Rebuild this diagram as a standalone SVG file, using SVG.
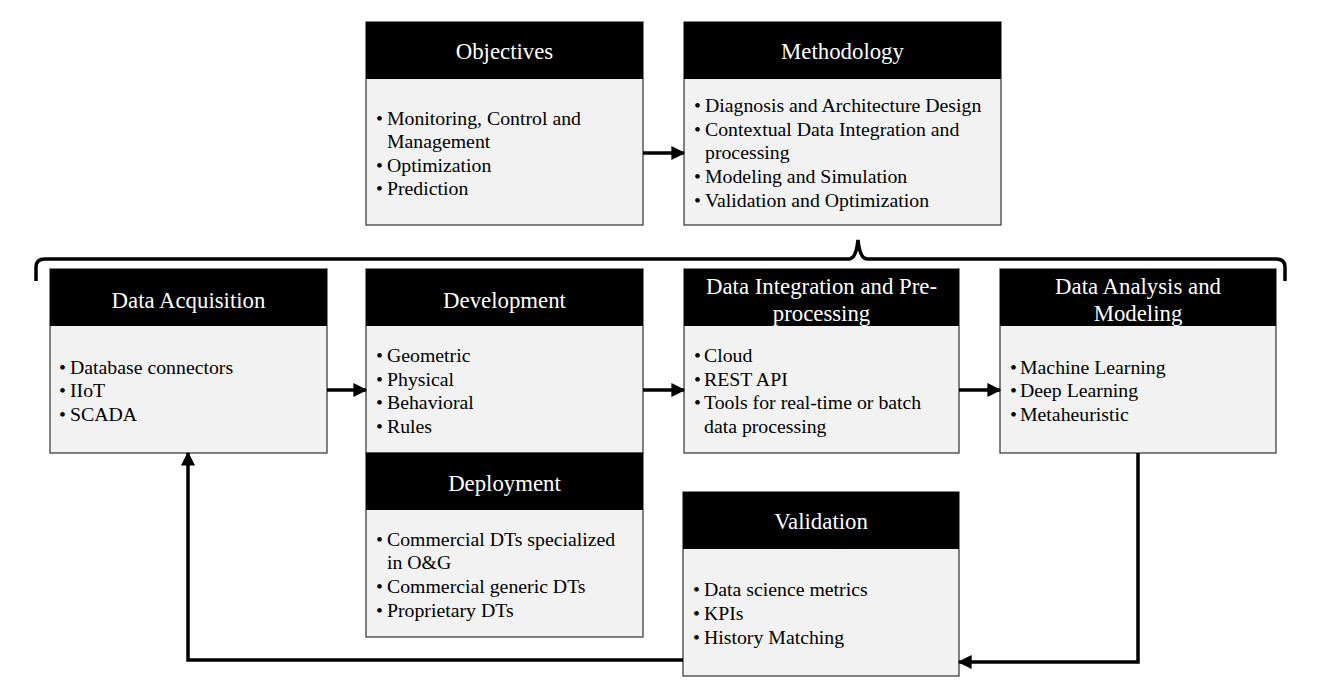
<svg xmlns="http://www.w3.org/2000/svg" width="1317" height="699" viewBox="0 0 1317 699">
<defs>
<style>
.box{fill:#f2f2f2;stroke:#404040;stroke-width:1.3}
.hdr{fill:#000}
.ht{font-family:"Liberation Serif","Times New Roman",serif;font-size:22.8px;fill:#fff;text-anchor:middle}
.bt{font-family:"Liberation Serif","Times New Roman",serif;font-size:19.8px;fill:#000}
.ln{fill:none;stroke:#000;stroke-width:3.5}
</style>
<marker id="ah" viewBox="0 0 10 10" refX="9" refY="5" markerWidth="4" markerHeight="4" orient="auto" markerUnits="strokeWidth">
<path d="M0,0 L10,5 L0,10 z" fill="#000"/>
</marker>
</defs>
<rect width="1317" height="699" fill="#fff"/>

<g id="objectives">
<rect class="box" x="366" y="22" width="277" height="203"/>
<rect class="hdr" x="366" y="22" width="277" height="57"/>
<text class="ht" x="504.5" y="59">Objectives</text>
<text class="bt"><tspan x="376" y="125">•</tspan><tspan x="387" y="125">Monitoring, Control and</tspan><tspan x="387" y="148">Management</tspan><tspan x="376" y="172">•</tspan><tspan x="387" y="172">Optimization</tspan><tspan x="376" y="195">•</tspan><tspan x="387" y="195">Prediction</tspan></text>
</g>

<g id="methodology">
<rect class="box" x="684" y="22" width="317" height="203"/>
<rect class="hdr" x="684" y="22" width="317" height="57"/>
<text class="ht" x="842.5" y="59">Methodology</text>
<text class="bt"><tspan x="694" y="112">•</tspan><tspan x="705" y="112">Diagnosis and Architecture Design</tspan><tspan x="694" y="136">•</tspan><tspan x="705" y="136">Contextual Data Integration and</tspan><tspan x="705" y="159">processing</tspan><tspan x="694" y="183">•</tspan><tspan x="705" y="183">Modeling and Simulation</tspan><tspan x="694" y="207">•</tspan><tspan x="705" y="207">Validation and Optimization</tspan></text>
</g>

<g id="data-acquisition">
<rect class="box" x="50" y="269" width="277" height="184"/>
<rect class="hdr" x="50" y="269" width="277" height="57"/>
<text class="ht" x="188.5" y="308">Data Acquisition</text>
<text class="bt"><tspan x="59" y="374">•</tspan><tspan x="70" y="374">Database connectors</tspan><tspan x="59" y="397">•</tspan><tspan x="70" y="397">IIoT</tspan><tspan x="59" y="421">•</tspan><tspan x="70" y="421">SCADA</tspan></text>
</g>

<g id="development">
<rect class="box" x="366" y="269" width="277" height="184"/>
<rect class="hdr" x="366" y="269" width="277" height="57"/>
<text class="ht" x="504.5" y="308">Development</text>
<text class="bt"><tspan x="376" y="362">•</tspan><tspan x="387" y="362">Geometric</tspan><tspan x="376" y="386">•</tspan><tspan x="387" y="386">Physical</tspan><tspan x="376" y="409">•</tspan><tspan x="387" y="409">Behavioral</tspan><tspan x="376" y="433">•</tspan><tspan x="387" y="433">Rules</tspan></text>
</g>

<g id="deployment">
<rect class="box" x="366" y="453" width="277" height="184"/>
<rect class="hdr" x="366" y="453" width="277" height="57"/>
<text class="ht" x="504.5" y="491">Deployment</text>
<text class="bt"><tspan x="376" y="546">•</tspan><tspan x="387" y="546">Commercial DTs specialized</tspan><tspan x="387" y="569">in O&amp;G</tspan><tspan x="376" y="593">•</tspan><tspan x="387" y="593">Commercial generic DTs</tspan><tspan x="376" y="617">•</tspan><tspan x="387" y="617">Proprietary DTs</tspan></text>
</g>

<g id="data-integration">
<rect class="box" x="684" y="269" width="275" height="184"/>
<rect class="hdr" x="684" y="269" width="275" height="57"/>
<text class="ht"><tspan x="821.5" y="294">Data Integration and Pre-</tspan><tspan x="821.5" y="321">processing</tspan></text>
<text class="bt"><tspan x="694" y="362">•</tspan><tspan x="704" y="362">Cloud</tspan><tspan x="694" y="386">•</tspan><tspan x="704" y="386">REST API</tspan><tspan x="694" y="409">•</tspan><tspan x="704" y="409">Tools for real-time or batch</tspan><tspan x="704" y="433">data processing</tspan></text>
</g>

<g id="data-analysis">
<rect class="box" x="1000" y="269" width="276" height="184"/>
<rect class="hdr" x="1000" y="269" width="276" height="57"/>
<text class="ht"><tspan x="1138" y="294">Data Analysis and</tspan><tspan x="1138" y="321">Modeling</tspan></text>
<text class="bt"><tspan x="1010" y="374">•</tspan><tspan x="1020" y="374">Machine Learning</tspan><tspan x="1010" y="397">•</tspan><tspan x="1020" y="397">Deep Learning</tspan><tspan x="1010" y="421">•</tspan><tspan x="1020" y="421">Metaheuristic</tspan></text>
</g>

<g id="validation">
<rect class="box" x="683" y="492" width="276" height="184"/>
<rect class="hdr" x="683" y="492" width="276" height="57"/>
<text class="ht" x="821" y="529">Validation</text>
<text class="bt"><tspan x="693" y="596">•</tspan><tspan x="704" y="596">Data science metrics</tspan><tspan x="693" y="620">•</tspan><tspan x="704" y="620">KPIs</tspan><tspan x="693" y="644">•</tspan><tspan x="704" y="644">History Matching</tspan></text>
</g>

<g id="connectors">
<path class="ln" d="M36,281 L36,267 Q36,259 45,259 L849,259 Q856,259 858,240 Q860,259 867,259 L1276,259 Q1285,259 1285,267 L1285,281"/>
<line class="ln" x1="643" y1="153" x2="684" y2="153" marker-end="url(#ah)"/>
<line class="ln" x1="327" y1="390" x2="366" y2="390" marker-end="url(#ah)"/>
<line class="ln" x1="643" y1="390" x2="684" y2="390" marker-end="url(#ah)"/>
<line class="ln" x1="959" y1="390" x2="1000" y2="390" marker-end="url(#ah)"/>
<polyline class="ln" points="1138,453 1138,662 959,662" marker-end="url(#ah)"/>
<polyline class="ln" points="683,660 188,660 188,453" marker-end="url(#ah)"/>
</g>
</svg>
